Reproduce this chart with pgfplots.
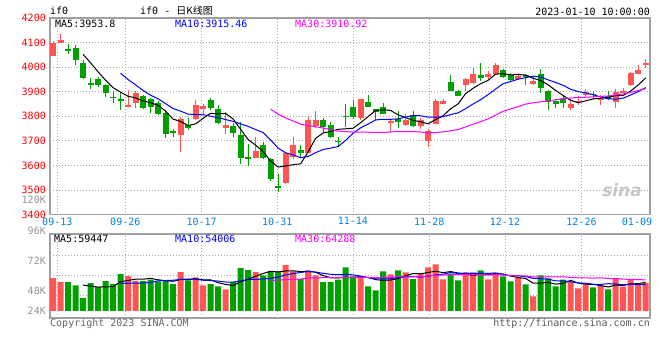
\documentclass[border=0pt]{standalone}
\usepackage{pgfplots}
\pgfplotsset{compat=1.18}
\usepackage{pgfplotstable}
\usepackage{fontspec}
\setmainfont{DejaVu Sans Mono}
\newfontfamily\cjk{Noto Sans CJK SC}
\newfontfamily\sinafont{DejaVu Sans}
\definecolor{cred}{RGB}{255,85,85}
\definecolor{cgreen}{RGB}{0,160,0}
\definecolor{cblue}{RGB}{0,0,255}
\definecolor{cmag}{RGB}{255,0,255}
\definecolor{cframe}{RGB}{160,160,160}
\definecolor{cgrid}{RGB}{170,170,170}
\definecolor{cdate}{RGB}{0,128,230}
\definecolor{ctick}{RGB}{255,0,0}
\definecolor{cvol}{RGB}{150,150,150}

% up (red) candles: index open high low close volume(K)
\pgfplotstableread{
i o h l c v
0 4046 4108 4045 4100 68.6
1 4099 4134 4098 4110 60.3
10 3837 3906 3836 3845 72.8
11 3852 3902 3834 3895 62.4
17 3725 3795 3656 3787 81.1
19 3787 3866 3784 3845 70.0
20 3830 3849 3811 3841 53.4
23 3753 3818 3727 3764 45.0
27 3631 3717 3631 3658 81.1
31 3527 3656 3524 3649 95.6
32 3633 3717 3628 3683 82.5
34 3651 3800 3649 3784 84.5
35 3760 3822 3754 3784 74.2
41 3791 3872 3784 3870 69.3
45 3773 3784 3737 3782 76.2
47 3764 3809 3760 3784 80.4
49 3760 3791 3748 3784 79.0
50 3700 3750 3673 3741 90.8
51 3768 3870 3768 3863 97.0
52 3849 3870 3849 3863 65.8
55 3927 3954 3902 3951 80.4
56 3936 3998 3931 3971 80.4
58 3960 3985 3947 3971 65.8
59 3974 4015 3967 4008 79.7
62 3950 3977 3947 3963 69.3
64 3931 3960 3927 3944 30.5
69 3834 3872 3825 3849 60.3
70 3859 3882 3845 3863 47.1
71 3886 3909 3879 3899 55.4
73 3868 3886 3845 3872 52.7
75 3859 3909 3834 3898 67.9
76 3895 3913 3893 3902 50.6
77 3927 3981 3923 3977 65.8
78 3974 4008 3971 3990 55.4
79 4008 4035 3998 4015 58.2
}\up
% down (green) candles
\pgfplotstableread{
i o h l c v
2 4072 4096 4055 4066 60.3
3 4076 4089 4008 4028 53.4
4 4017 4031 3951 3956 27.0
5 3936 3954 3912 3929 58.2
6 3951 3960 3920 3927 49.9
7 3927 3933 3879 3895 62.4
8 3880 3902 3855 3876 56.1
9 3871 3899 3825 3864 76.9
12 3882 3886 3829 3834 62.4
13 3870 3875 3814 3838 65.1
14 3855 3861 3805 3811 61.7
15 3814 3825 3712 3729 63.8
16 3740 3748 3714 3730 56.1
18 3764 3791 3746 3754 63.8
21 3866 3875 3825 3834 56.1
22 3829 3845 3767 3773 51.3
24 3760 3771 3717 3733 60.3
25 3723 3775 3607 3631 89.4
26 3634 3687 3597 3627 85.2
28 3683 3696 3628 3631 74.2
29 3628 3631 3538 3544 83.2
30 3517 3565 3490 3506 82.5
33 3662 3683 3633 3651 66.5
36 3784 3794 3733 3757 60.3
37 3764 3777 3710 3714 60.3
38 3699 3714 3676 3695 65.1
39 3801 3849 3757 3795 90.8
40 3838 3866 3787 3795 72.1
42 3859 3886 3836 3838 51.3
43 3828 3830 3784 3818 43.0
44 3836 3852 3809 3811 82.5
46 3787 3821 3754 3778 84.5
48 3805 3821 3757 3760 66.5
53 3940 3967 3902 3902 77.6
54 3902 3905 3881 3883 63.8
57 3967 4017 3943 3956 84.5
60 3988 3992 3956 3960 72.1
61 3967 3977 3944 3947 61.7
63 3966 3974 3927 3960 55.4
65 3971 3992 3895 3913 74.2
66 3902 3906 3825 3859 67.9
67 3862 3866 3834 3849 51.3
68 3872 3886 3834 3855 65.1
72 3890 3899 3872 3886 49.2
74 3883 3902 3866 3870 45.0
}\down
% moving averages: price (m5 m10 m30) and volume (v5 v10 v30)
\pgfplotstableread{
i m5 m10 m30 v5 v10 v30
0 nan nan nan nan nan nan
1 nan nan nan nan nan nan
2 nan nan nan nan nan nan
3 nan nan nan nan nan nan
4 4052 nan nan 53.9 nan nan
5 4017.8 nan nan 51.8 nan nan
6 3981.2 nan nan 49.8 nan nan
7 3947 nan nan 50.2 nan nan
8 3916.6 nan nan 50.7 nan nan
9 3898.2 3975.1 nan 60.7 57.3 nan
10 3881.4 3949.6 nan 63.6 57.7 nan
11 3875 3928.1 nan 66.1 57.9 nan
12 3862.8 3904.9 nan 66.1 58.2 nan
13 3855.2 3885.9 nan 67.9 59.3 nan
14 3844.6 3871.4 nan 64.9 62.8 nan
15 3821.4 3851.4 nan 63.1 63.4 nan
16 3788.4 3831.7 nan 61.8 64.0 nan
17 3779 3820.9 nan 65.6 65.8 nan
18 3762.2 3808.7 nan 65.3 66.6 nan
19 3769 3806.8 nan 67.0 65.9 nan
20 3791.4 3806.4 nan 64.9 64.0 nan
21 3812.2 3800.3 nan 64.9 63.4 nan
22 3809.4 3794.2 nan 58.9 62.2 nan
23 3811.4 3786.8 nan 55.2 60.2 nan
24 3789 3779 nan 53.2 60.1 nan
25 3747 3769.2 nan 60.4 62.7 nan
26 3705.6 3758.9 nan 66.2 65.6 nan
27 3682.6 3746 nan 72.2 65.6 nan
28 3656 3733.7 nan 78.0 66.6 nan
29 3618.2 3703.6 3828.5 82.6 67.9 63.7
30 3593.2 3670.1 3808.7 81.2 70.8 64.2
31 3597.6 3651.6 3793.3 83.3 74.8 65.4
32 3602.6 3642.6 3780.6 83.6 77.9 66.1
33 3606.6 3631.3 3768 82.1 80.1 66.5
34 3654.6 3636.4 3762.3 82.3 82.5 68.5
35 3710.2 3651.7 3757.4 80.7 81.0 69.0
36 3731.8 3664.7 3751.8 73.6 78.5 69.3
37 3738 3670.3 3745.7 69.2 76.4 69.3
38 3746.8 3676.7 3739.7 68.9 75.5 69.6
39 3749 3701.8 3737.4 70.1 76.2 70.0
40 3751.2 3730.7 3735.7 69.7 75.2 70.0
41 3773.8 3752.8 3734.9 71.5 72.6 70.2
42 3798.6 3768.3 3735 69.7 69.4 69.9
43 3823.2 3785 3734.4 65.3 67.1 69.1
44 3826.4 3787.7 3734.4 63.6 66.9 69.8
45 3823.8 3787.5 3736.1 64.5 67.1 70.2
46 3805.4 3789.6 3737.7 67.5 69.5 71.2
47 3794.6 3796.6 3737.6 73.3 71.5 71.2
48 3783 3803.1 3737.8 78.0 71.7 71.2
49 3777.6 3802 3735.8 77.3 70.5 71.5
50 3769.4 3796.6 3732.5 80.2 72.4 72.8
51 3786.4 3795.9 3733.4 82.7 75.1 74.2
52 3802.2 3798.4 3736.4 79.8 76.6 74.6
53 3830.6 3806.8 3741 82.0 80.0 75.7
54 3850.4 3814 3746 79.0 78.2 75.8
55 3892.4 3830.9 3756.7 76.9 78.6 75.5
56 3914 3850.2 3768.2 73.6 78.2 75.4
57 3932.6 3867.4 3778.1 77.3 78.6 75.5
58 3946.4 3888.5 3789.4 75.0 78.5 75.2
59 3971.4 3910.9 3804.9 78.2 78.6 75.1
60 3973.2 3932.8 3820 76.5 76.7 74.8
61 3968.4 3941.2 3830 72.8 73.2 73.6
62 3969.8 3951.2 3839.3 69.7 73.5 73.2
63 3967.6 3957 3849.6 67.6 71.3 72.8
64 3954.8 3963.1 3854.9 57.8 68.0 71.0
65 3945.4 3959.3 3859.2 58.2 67.4 71.0
66 3927.8 3948.1 3862.6 59.5 66.1 71.3
67 3905 3937.4 3867.1 55.9 62.8 71.0
68 3884 3925.8 3872.5 57.8 62.7 71.0
69 3865 3909.9 3874.3 63.8 60.8 69.9
70 3855 3900.2 3876.5 58.3 58.3 69.1
71 3863 3895.4 3877.5 55.8 57.7 68.7
72 3870.4 3887.7 3879.1 55.4 55.6 68.6
73 3873 3878.5 3880.8 52.9 55.4 68.9
74 3877.2 3871.1 3882.7 49.9 56.8 67.7
75 3884.2 3869.6 3886.6 54.0 56.2 67.4
76 3884.8 3873.9 3890.7 53.1 54.5 66.2
77 3903 3886.7 3897.2 56.4 55.9 65.8
78 3927.4 3900.2 3904.8 56.9 54.9 65.4
79 3956.4 3916.8 3912.5 59.6 54.7 64.7
}\ma

\pgfplotsset{
  kbase/.style={
    scale only axis, width=600pt, anchor=south west,
    xmin=-0.4, xmax=79.57,
    axis line style={cframe, line width=1.2pt},
    major tick length=0pt,
    tick style={draw=none},
    grid=major,
    major grid style={cgrid, line width=0.8pt, dash pattern=on 1pt off 2pt},
    xtick={0.573,9.636,19.82,29.89,39.98,50.15,60.24,70.44},
    /pgf/number format/assume math mode=true,
    /pgf/number format/1000 sep={},
  },
  wick/.style={forget plot, draw=none, mark=none,
    error bars/.cd, y dir=plus, y explicit, error mark=none,
    error bar style={draw=#1, solid, line width=1pt}},
  body/.style={forget plot, draw=none, mark=none,
    error bars/.cd, y dir=plus, y explicit, error mark=none,
    error bar style={draw=#1, solid, line width=6pt}},
}

\begin{document}
\fontsize{10}{12}\selectfont
\begin{tikzpicture}
\path[use as bounding box, fill=white] (0pt,0pt) rectangle (660pt,360pt);

% ---------- price panel ----------
\begin{axis}[kbase, at={(50pt,145.5pt)}, height=196.5pt,
  ymin=3400, ymax=4200, ytick={3400,3500,...,4200},
  yticklabel style={text=ctick, font=\fontsize{10}{12}\selectfont, inner sep=0pt, xshift=-4pt},
  xticklabels={09-13,09-26,10-17,10-31,11-14,11-28,12-12,12-26},
  xticklabel style={text=cdate, font=\fontsize{10}{12}\selectfont, inner sep=0pt, yshift=-3pt},
  extra x ticks={77.84}, extra x tick labels={01-09}, extra x tick style={grid=none},
]
\addplot[wick=cred] table[x=i, y=l, y error plus expr=\thisrow{h}-\thisrow{l}] {\up};
\addplot[body=cred] table[x=i, y=o, y error plus expr=\thisrow{c}-\thisrow{o}] {\up};
\addplot[wick=cgreen] table[x=i, y=l, y error plus expr=\thisrow{h}-\thisrow{l}] {\down};
\addplot[body=cgreen] table[x=i, y=c, y error plus expr=\thisrow{o}-\thisrow{c}] {\down};
\addplot[black, line width=1pt, mark=none] table[x=i, y=m5] {\ma};
\addplot[cblue, line width=1pt, mark=none] table[x=i, y=m10] {\ma};
\addplot[cmag, line width=1pt, mark=none] table[x=i, y=m30] {\ma};
\end{axis}

% ---------- volume panel ----------
\begin{axis}[kbase, at={(50pt,42pt)}, height=84pt,
  ymin=-14.6, ymax=160.2, ytick={33.3,74.9,116.5}, yticklabels={,,},
  xticklabels={,,,,,,,},
]
\addplot[ybar, bar width=6pt, bar shift=0pt, fill=cred, draw=none] table[x=i, y=v] {\up};
\addplot[ybar, bar width=6pt, bar shift=0pt, fill=cgreen, draw=none] table[x=i, y=v] {\down};
\addplot[black, line width=1pt, mark=none] table[x=i, y=v5] {\ma};
\addplot[cblue, line width=1pt, mark=none] table[x=i, y=v10] {\ma};
\addplot[cmag, line width=1pt, mark=none] table[x=i, y=v30] {\ma};
\end{axis}

% ---------- texts ----------
\node[anchor=west, inner sep=0pt] at (50pt,349pt) {if0};
\node[anchor=west, inner sep=0pt] at (140pt,349pt) {if0 - {\cjk 日K线图}};
\node[anchor=east, inner sep=0pt] at (650pt,348pt) {2023-01-10 10:00:00};
\node[anchor=west, inner sep=0pt] at (55pt,336.5pt) {MA5:3953.8};
\node[anchor=west, inner sep=0pt, text=cblue] at (175pt,336.5pt) {MA10:3915.46};
\node[anchor=west, inner sep=0pt, text=cmag] at (295pt,336.5pt) {MA30:3910.92};
\node[anchor=west, inner sep=0pt] at (54pt,121.5pt) {MA5:59447};
\node[anchor=west, inner sep=0pt, text=cblue] at (175pt,121.5pt) {MA10:54006};
\node[anchor=west, inner sep=0pt, text=cmag] at (295pt,121.5pt) {MA30:64288};
\node[anchor=east, inner sep=0pt, text=cvol] at (46pt,160pt) {120K};
\node[anchor=east, inner sep=0pt, text=cvol] at (46pt,129pt) {96K};
\node[anchor=east, inner sep=0pt, text=cvol] at (46pt,99pt) {72K};
\node[anchor=east, inner sep=0pt, text=cvol] at (46pt,69pt) {48K};
\node[anchor=east, inner sep=0pt, text=cvol] at (46pt,49pt) {24K};
\node[anchor=west, inner sep=0pt, text=black!60] at (50pt,36.7pt) {Copyright 2023 SINA.COM};
\node[anchor=east, inner sep=0pt, text=black!65] at (650pt,36.7pt) {http://finance.sina.com.cn};
\node[inner sep=0pt, text=black!22, font=\sinafont\bfseries\itshape\fontsize{17}{17}\selectfont] at (622pt,170pt) {sina};
\end{tikzpicture}
\end{document}
